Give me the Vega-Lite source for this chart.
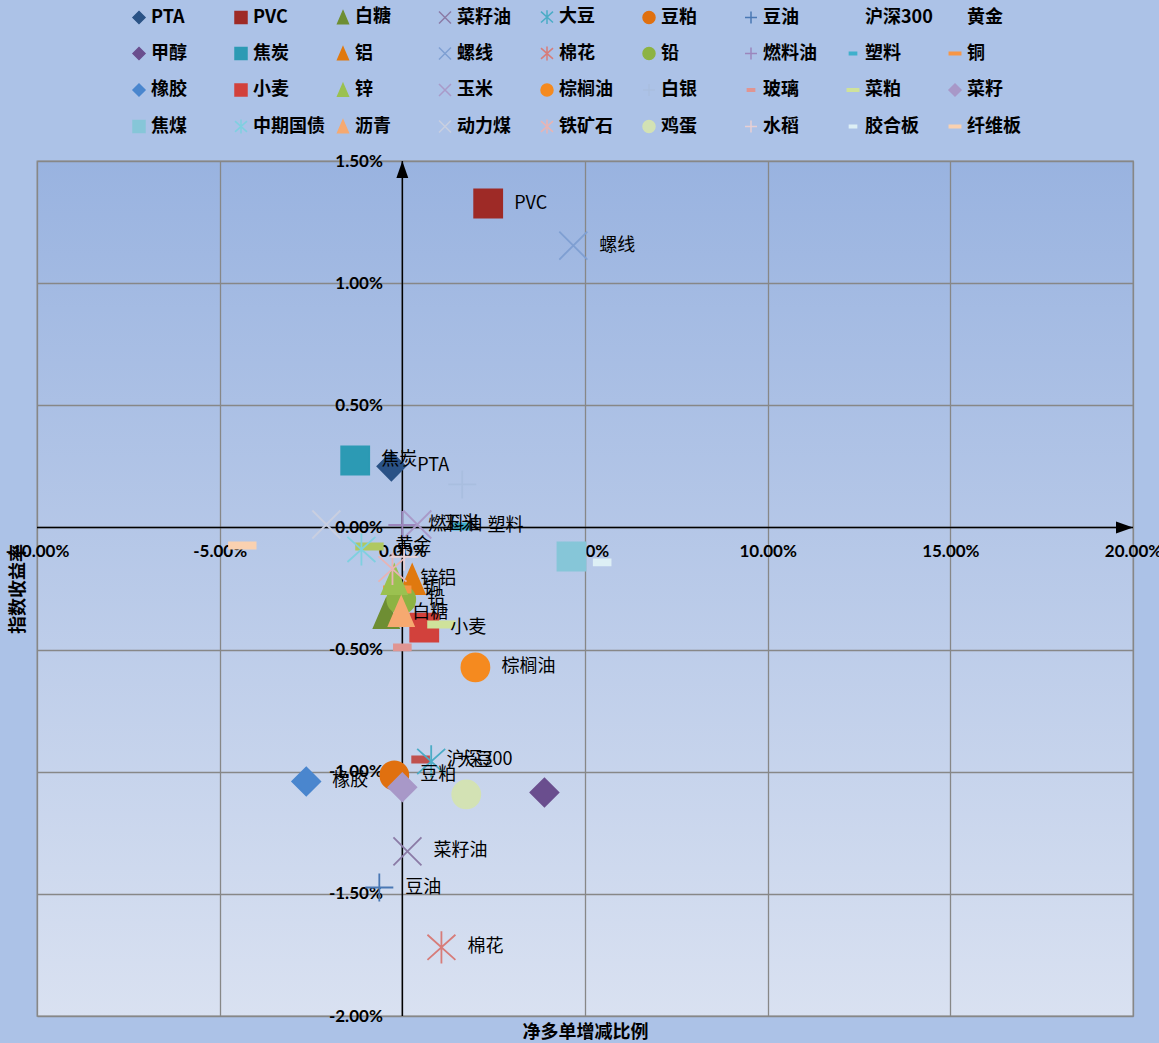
{
  "$schema": "https://vega.github.io/schema/vega-lite/v6.json",
  "width": 1096,
  "height": 855,
  "autosize": {"type": "none"},
  "padding": {"left": 37, "top": 161, "right": 26, "bottom": 27},
  "background": "#ACC2E7",
  "view": {
    "stroke": "#8a8a8a",
    "strokeWidth": 1.3,
    "fill": {"gradient": "linear", "x1": 0, "y1": 0, "x2": 0, "y2": 1, "stops": [{"offset": 0, "color": "#99B3E0"}, {"offset": 1, "color": "#D9E1F1"}]}
  },
  "data": {
    "values": [
      {"name": "PTA", "x": -0.0030, "y": 0.0025, "label": "PTA"},
      {"name": "PVC", "x": 0.0235, "y": 0.01326, "label": "PVC"},
      {"name": "白糖", "x": -0.0044, "y": -0.00352, "label": "白糖"},
      {"name": "菜籽油", "x": 0.0014, "y": -0.01326, "label": "菜籽油"},
      {"name": "大豆", "x": 0.0079, "y": -0.00958, "label": "大豆"},
      {"name": "豆粕", "x": -0.0022, "y": -0.01015, "label": "豆粕"},
      {"name": "豆油", "x": -0.0063, "y": -0.01474, "label": "豆油"},
      {"name": "沪深300", "x": 0.0050, "y": -0.0095, "label": "沪深300"},
      {"name": "黄金", "x": -0.0090, "y": -0.00078, "label": "黄金"},
      {"name": "甲醇", "x": 0.0389, "y": -0.01085, "label": ""},
      {"name": "焦炭", "x": -0.0129, "y": 0.00274, "label": "焦炭"},
      {"name": "铝", "x": 0.0027, "y": -0.00213, "label": "铝"},
      {"name": "螺线", "x": 0.0468, "y": 0.01154, "label": "螺线"},
      {"name": "棉花", "x": 0.0107, "y": -0.01719, "label": "棉花"},
      {"name": "铅", "x": -0.0003, "y": -0.00295, "label": "铅"},
      {"name": "燃料油", "x": 0.0, "y": 0.0001, "label": "燃料油"},
      {"name": "塑料", "x": 0.0162, "y": 0.00004, "label": "塑料"},
      {"name": "铜", "x": -0.0014, "y": -0.00254, "label": "铜"},
      {"name": "橡胶", "x": -0.0263, "y": -0.0104, "label": "橡胶"},
      {"name": "小麦", "x": 0.0060, "y": -0.0041, "label": "小麦"},
      {"name": "锌", "x": -0.0022, "y": -0.00213, "label": "锌"},
      {"name": "玉米", "x": 0.0041, "y": 0.00012, "label": "玉米"},
      {"name": "棕榈油", "x": 0.0200, "y": -0.00573, "label": "棕榈油"},
      {"name": "白银", "x": 0.0164, "y": 0.00176, "label": ""},
      {"name": "玻璃", "x": 0.0, "y": -0.00491, "label": ""},
      {"name": "菜粕", "x": 0.0107, "y": -0.00397, "label": ""},
      {"name": "菜籽", "x": 0.0, "y": -0.01064, "label": ""},
      {"name": "焦煤", "x": 0.0463, "y": -0.00119, "label": ""},
      {"name": "中期国债", "x": -0.0112, "y": -0.0009, "label": ""},
      {"name": "沥青", "x": -0.0003, "y": -0.00344, "label": ""},
      {"name": "动力煤", "x": -0.0208, "y": 0.00012, "label": ""},
      {"name": "铁矿石", "x": -0.0027, "y": -0.0017, "label": ""},
      {"name": "鸡蛋", "x": 0.0175, "y": -0.01093, "label": ""},
      {"name": "水稻", "x": 0.0005, "y": -0.0012, "label": ""},
      {"name": "胶合板", "x": 0.0547, "y": -0.00143, "label": ""},
      {"name": "纤维板", "x": -0.0438, "y": -0.00074, "label": ""}
    ]
  },
  "layer": [
    {
      "data": {"values": [{"k": 0}]},
      "mark": {"type": "rule", "color": "#000", "strokeWidth": 1.5},
      "encoding": {"y": {"datum": 0, "type": "quantitative", "scale": {"domain": [-0.02, 0.015], "nice": false, "zero": false}}}
    },
    {
      "data": {"values": [{"k": 0}]},
      "mark": {"type": "rule", "color": "#000", "strokeWidth": 1.5},
      "encoding": {"x": {"datum": 0, "type": "quantitative", "scale": {"domain": [-0.1, 0.2], "nice": false, "zero": false}}}
    },
    {
      "data": {"values": [{"k": 0}]},
      "mark": {"type": "point", "filled": true, "color": "#000", "opacity": 1, "size": 289, "shape": "M0,0L-2,-0.7L-2,0.7Z"},
      "encoding": {
        "x": {"datum": 0.2, "type": "quantitative", "scale": {"domain": [-0.1, 0.2], "nice": false, "zero": false}},
        "y": {"datum": 0, "type": "quantitative", "scale": {"domain": [-0.02, 0.015], "nice": false, "zero": false}}
      }
    },
    {
      "data": {"values": [{"k": 0}]},
      "mark": {"type": "point", "filled": true, "color": "#000", "opacity": 1, "size": 289, "shape": "M0,0L-0.7,2L0.7,2Z"},
      "encoding": {
        "x": {"datum": 0, "type": "quantitative", "scale": {"domain": [-0.1, 0.2], "nice": false, "zero": false}},
        "y": {"datum": 0.015, "type": "quantitative", "scale": {"domain": [-0.02, 0.015], "nice": false, "zero": false}}
      }
    },
    {
      "transform": [{"filter": "datum.name === '沪深300' || datum.name === '黄金'"}],
      "mark": {"type": "point", "filled": true, "opacity": 1, "size": 784, "strokeWidth": 1.8},
      "encoding": {
        "x": {"field": "x", "type": "quantitative", "scale": {"domain": [-0.1, 0.2], "nice": false, "zero": false}},
        "y": {"field": "y", "type": "quantitative", "scale": {"domain": [-0.02, 0.015], "nice": false, "zero": false}},
        "fill": {"condition": {"test": "datum.name === '沪深300'", "value": "#C0504D"}, "value": "#B0C860"},
        "stroke": {"condition": {"test": "datum.name === '沪深300'", "value": "#C0504D"}, "value": "#B0C860"},
        "shape": {"condition": {"test": "datum.name === '沪深300'", "value": "M-0.6,-0.22L0.6,-0.22L0.6,0.22L-0.6,0.22Z"}, "value": "M-0.95,-0.22L0.95,-0.22L0.95,0.22L-0.95,0.22Z"}
      }
    },
    {
      "transform": [{"filter": "datum.name !== '沪深300' && datum.name !== '黄金'"}],
      "mark": {"type": "point", "filled": true, "opacity": 1, "size": 784, "strokeWidth": 1.8},
      "encoding": {
        "x": {
          "field": "x", "type": "quantitative",
          "scale": {"domain": [-0.1, 0.2], "nice": false, "zero": false},
          "axis": {
            "values": [-0.1, -0.05, 0, 0.05, 0.1, 0.15, 0.2],
            "format": ".2%",
            "labelExpr": "replace(datum.label, '\u2212', '-')",
            "offset": -488.57,
            "grid": true, "ticks": false, "domain": false,
            "labelPadding": 16, "labelFlush": false, "labelOverlap": false, "labelBound": false,
            "title": "净多单增减比例", "titleY": 505, "titleBaseline": "middle"
          }
        },
        "y": {
          "field": "y", "type": "quantitative",
          "scale": {"domain": [-0.02, 0.015], "nice": false, "zero": false},
          "axis": {
            "values": [-0.02, -0.015, -0.01, -0.005, 0, 0.005, 0.01, 0.015],
            "format": ".2%",
            "labelExpr": "replace(datum.label, '\u2212', '-')",
            "offset": -365.33,
            "grid": true, "ticks": false, "domain": false,
            "labelPadding": 20, "labelFlush": false, "labelOverlap": false, "labelBound": false,
            "title": "指数收益率", "titleX": -384, "titleBaseline": "middle"
          }
        },
        "fill": {
          "field": "name", "type": "nominal",
          "scale": {
            "domain": ["PTA","PVC","白糖","菜籽油","大豆","豆粕","豆油","沪深300","黄金","甲醇","焦炭","铝","螺线","棉花","铅","燃料油","塑料","铜","橡胶","小麦","锌","玉米","棕榈油","白银","玻璃","菜粕","菜籽","焦煤","中期国债","沥青","动力煤","铁矿石","鸡蛋","水稻","胶合板","纤维板"],
            "range": ["#2A5286","#9E2A26","#6E8E33","#8B7BA6","#4BACC6","#E0700F","#4A78B4","transparent","transparent","#6A4E8E","#2C9AB4","#E0790F","#7F9FD2","#D77C79","#8DB343","#9B86BD","#3FB0CC","#F79646","#4A86CE","#D2413C","#9BC150","#A99AC9","#F58A1F","#A9BEDF","#E09592","#CFE29A","#A898C8","#86C6D8","#7FD0E0","#F6A970","#C9CFE0","#E8B4B4","#D3E2B4","#E8D0D4","#DDEFF5","#FAD1B0"]
          },
          "legend": {"title": null, "symbolLimit": 0}
        },
        "stroke": {
          "field": "name", "type": "nominal",
          "scale": {
            "domain": ["PTA","PVC","白糖","菜籽油","大豆","豆粕","豆油","沪深300","黄金","甲醇","焦炭","铝","螺线","棉花","铅","燃料油","塑料","铜","橡胶","小麦","锌","玉米","棕榈油","白银","玻璃","菜粕","菜籽","焦煤","中期国债","沥青","动力煤","铁矿石","鸡蛋","水稻","胶合板","纤维板"],
            "range": ["#2A5286","#9E2A26","#6E8E33","#8B7BA6","#4BACC6","#E0700F","#4A78B4","transparent","transparent","#6A4E8E","#2C9AB4","#E0790F","#7F9FD2","#D77C79","#8DB343","#9B86BD","#3FB0CC","#F79646","#4A86CE","#D2413C","#9BC150","#A99AC9","#F58A1F","#A9BEDF","#E09592","#CFE29A","#A898C8","#86C6D8","#7FD0E0","#F6A970","#C9CFE0","#E8B4B4","#D3E2B4","#E8D0D4","#DDEFF5","#FAD1B0"]
          },
          "legend": {"title": null, "symbolLimit": 0}
        },
        "shape": {
          "field": "name", "type": "nominal",
          "scale": {
            "domain": ["PTA","PVC","白糖","菜籽油","大豆","豆粕","豆油","沪深300","黄金","甲醇","焦炭","铝","螺线","棉花","铅","燃料油","塑料","铜","橡胶","小麦","锌","玉米","棕榈油","白银","玻璃","菜粕","菜籽","焦煤","中期国债","沥青","动力煤","铁矿石","鸡蛋","水稻","胶合板","纤维板"],
            "range": [
              "M-1,0L0,-1L1,0L0,1Z", "M-1,-1L1,-1L1,1L-1,1Z", "M0,-1.05L0.9,1.05L-0.9,1.05Z", "M-1,-1L1,1M-1,1L1,-1", "M-1,-0.9L1,0.9M-1,0.9L1,-0.9M0,-1.15L0,1.15", "circle", "M-1,0L1,0M0,-1L0,1", "M-0.6,-0.22L0.6,-0.22L0.6,0.22L-0.6,0.22Z", "M-0.95,-0.22L0.95,-0.22L0.95,0.22L-0.95,0.22Z",
              "M-1,0L0,-1L1,0L0,1Z", "M-1,-1L1,-1L1,1L-1,1Z", "M0,-1.05L0.9,1.05L-0.9,1.05Z", "M-1,-1L1,1M-1,1L1,-1", "M-1,-0.9L1,0.9M-1,0.9L1,-0.9M0,-1.15L0,1.15", "circle", "M-1,0L1,0M0,-1L0,1", "M-0.6,-0.22L0.6,-0.22L0.6,0.22L-0.6,0.22Z", "M-0.95,-0.22L0.95,-0.22L0.95,0.22L-0.95,0.22Z",
              "M-1,0L0,-1L1,0L0,1Z", "M-1,-1L1,-1L1,1L-1,1Z", "M0,-1.05L0.9,1.05L-0.9,1.05Z", "M-1,-1L1,1M-1,1L1,-1", "circle", "M-1,0L1,0M0,-1L0,1", "M-0.6,-0.22L0.6,-0.22L0.6,0.22L-0.6,0.22Z", "M-0.95,-0.22L0.95,-0.22L0.95,0.22L-0.95,0.22Z", "M-1,0L0,-1L1,0L0,1Z",
              "M-1,-1L1,-1L1,1L-1,1Z", "M-1,-0.9L1,0.9M-1,0.9L1,-0.9M0,-1.15L0,1.15", "M0,-1.05L0.9,1.05L-0.9,1.05Z", "M-1,-1L1,1M-1,1L1,-1", "M-1,-0.9L1,0.9M-1,0.9L1,-0.9M0,-1.15L0,1.15", "circle", "M-1,0L1,0M0,-1L0,1", "M-0.6,-0.22L0.6,-0.22L0.6,0.22L-0.6,0.22Z", "M-0.95,-0.22L0.95,-0.22L0.95,0.22L-0.95,0.22Z"
            ]
          },
          "legend": {"title": null, "symbolLimit": 0}
        }
      }
    },
    {
      "mark": {"type": "text", "align": "left", "baseline": "middle", "dx": 26, "font": "Noto Sans CJK SC", "fontSize": 18, "color": "#000"},
      "encoding": {
        "x": {"field": "x", "type": "quantitative", "scale": {"domain": [-0.1, 0.2], "nice": false, "zero": false}},
        "y": {"field": "y", "type": "quantitative", "scale": {"domain": [-0.02, 0.015], "nice": false, "zero": false}},
        "text": {"field": "label"}
      }
    }
  ],
  "config": {
    "axis": {
      "gridColor": "#878787", "gridWidth": 1.3, "gridOpacity": 1,
      "labelFont": "Lato", "labelFontSize": 17, "labelFontWeight": "bold", "labelColor": "#000",
      "titleFont": "Noto Sans CJK SC", "titleFontSize": 18, "titleFontWeight": "bold", "titleColor": "#000"
    },
    "legend": {
      "orient": "none", "legendX": 93, "legendY": -153, "direction": "horizontal", "columns": 9,
      "gridAlign": "all", "columnPadding": 9, "rowPadding": 16.5, "padding": 0,
      "labelFont": "Noto Sans CJK SC", "labelFontSize": 18, "labelFontWeight": "bold", "labelColor": "#000",
      "labelOffset": 3, "labelLimit": 300, "symbolSize": 144, "symbolStrokeWidth": 1.5, "symbolLimit": 0
    }
  }
}
